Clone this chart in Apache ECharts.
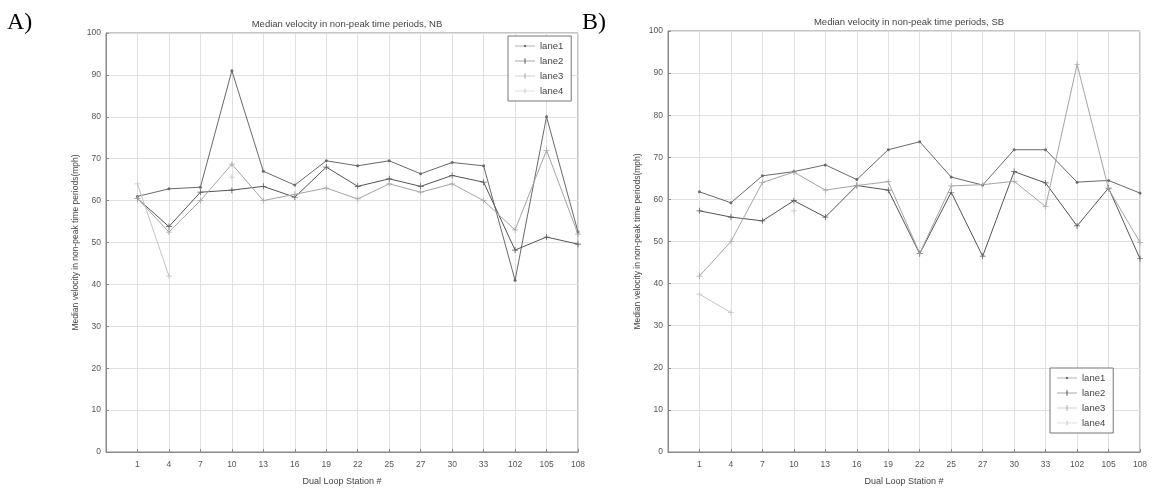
<!DOCTYPE html>
<html>
<head>
<meta charset="utf-8">
<script src="https://cdn.jsdelivr.net/npm/echarts@6/dist/echarts.min.js"></script>
<style>
html,body{margin:0;padding:0;background:#fff;}
#chart{width:1155px;height:491px;}
</style>
</head>
<body>
<div id="chart"></div>
<script>
// ---- data ----
const stationsNB = ['1','4','7','10','13','16','19','22','25','27','30','33','102','105','108'];
const stationsSB = ['1','4','7','10','13','16','19','22','25','27','30','33','102','105','108'];
const laneNames = ['lane1','lane2','lane3','lane4'];
const yTicks = [0,10,20,30,40,50,60,70,80,90,100];

const lane1NB = [61, 62.8, 63.2, 91, 67, 63.7, 69.5, 68.3, 69.5, 66.4, 69.1, 68.3, 41, 80, 52.5];
const lane2NB = [60.5, 53.8, 62, 62.5, 63.4, 60.8, 68, 63.4, 65.2, 63.4, 66, 64.4, 48.2, 51.3, 49.6];
const lane3NB = [60.5, 52.5, 60, 68.7, 60, 61.5, 63, 60.4, 64, 62, 64, 60, 53, 72, 52];
const lane4NB = [64, 42, null, 65.6, null, null, null, null, null, null, null, null, null, null, null];

const lane1SB = [61.8, 59.2, 65.6, 66.6, 68.2, 64.7, 71.8, 73.7, 65.3, 63.4, 71.8, 71.8, 64.1, 64.5, 61.5];
const lane2SB = [57.3, 55.8, 54.9, 59.7, 55.8, 63.3, 62.2, 47.1, 61.7, 46.5, 66.6, 63.9, 53.7, 62.7, 45.9];
const lane3SB = [41.8, 50, 64, 66.5, 62.2, 63.3, 64.2, 47.2, 63.2, 63.5, 64.3, 58.3, 92.1, 62.5, 49.8];
const lane4SB = [37.5, 33.1, null, 57.3, null, null, null, null, null, null, null, null, null, null, null];

// ---- styles ----
const FONT = 'Liberation Sans';
const laneColors = ['#6a6a6a', '#555555', '#a5a5a5', '#c4c4c4'];
const plusPath = 'path://M0,4.4H10V5.6H0Z M4.4,0H5.6V10H4.4Z';
const laneSymbols = ['circle', plusPath, plusPath, plusPath];
const laneSymbolSizes = [3, 6, 6, 6];
// legend icons: thin line with small marker, bounding box 20x10
const legendIcons = [
  'path://M0,0H0.01V0.01H0Z M0,4.6H20V5.4H0Z M9,4H11V6H9Z M19.99,9.99H20V10H19.99Z',
  'path://M0,0H0.01V0.01H0Z M0,4.6H20V5.4H0Z M9.5,2H10.5V8H9.5Z M7,4.6H13V5.4H7Z M19.99,9.99H20V10H19.99Z',
  'path://M0,0H0.01V0.01H0Z M0,4.6H20V5.4H0Z M9.5,2H10.5V8H9.5Z M19.99,9.99H20V10H19.99Z',
  'path://M0,0H0.01V0.01H0Z M0,4.6H20V5.4H0Z M9.5,2.5H10.5V7.5H9.5Z M19.99,9.99H20V10H19.99Z'
];

function xAxisFor(gridIndex, stations) {
  return {
    type: 'category', gridIndex: gridIndex, boundaryGap: false,
    data: [''].concat(stations),
    name: 'Dual Loop Station #', nameLocation: 'middle', nameGap: 25,
    nameTextStyle: {fontFamily: FONT, fontSize: 9, color: '#444'},
    axisLine: {lineStyle: {color: '#8a8a8a'}},
    axisTick: {inside: true, length: 3, alignWithLabel: true, lineStyle: {color: '#8a8a8a'}},
    axisLabel: {fontFamily: FONT, fontSize: 8.5, color: '#555', margin: 8, interval: 0},
    splitLine: {show: true, lineStyle: {color: '#e0e0e0', width: 1}}
  };
}
function yAxisFor(gridIndex) {
  return {
    type: 'value', gridIndex: gridIndex, min: 0, max: 100, interval: 10,
    name: 'Median velocity in non-peak time periods(mph)', nameLocation: 'middle', nameGap: 26,
    nameTextStyle: {fontFamily: FONT, fontSize: 8.5, color: '#444'},
    axisLine: {show: true, lineStyle: {color: '#8a8a8a'}},
    axisTick: {show: true, inside: true, length: 3, lineStyle: {color: '#8a8a8a'}},
    axisLabel: {fontFamily: FONT, fontSize: 8.5, color: '#555', margin: 5,
      formatter: v => (yTicks.indexOf(v) >= 0 ? String(v) : '')},
    splitLine: {show: true, lineStyle: {color: '#e0e0e0', width: 1}}
  };
}
function lanesSeries(gridIndex, lanes) {
  return lanes.map((vals, i) => ({
    name: laneNames[i], type: 'line',
    xAxisIndex: gridIndex, yAxisIndex: gridIndex,
    data: [null].concat(vals),
    connectNulls: false, showSymbol: true,
    symbol: laneSymbols[i], symbolSize: laneSymbolSizes[i],
    lineStyle: {color: laneColors[i], width: 1},
    itemStyle: {color: laneColors[i]},
    animation: false
  }));
}
function legendFor(left, top) {
  return {
    orient: 'vertical', left: left, top: top,
    data: laneNames.map((n, i) => ({name: n, icon: legendIcons[i]})),
    symbolKeepAspect: false,
    backgroundColor: '#fff', borderColor: '#777', borderWidth: 1,
    padding: [5, 8, 5, 7], itemGap: 5, itemWidth: 20, itemHeight: 9,
    textStyle: {fontFamily: FONT, fontSize: 9.5, color: '#444'},
    selectedMode: false
  };
}

const chart = echarts.init(document.getElementById('chart'), null, {renderer: 'canvas'});
const option = {
  backgroundColor: '#fff',
  animation: false,
  title: [
    {text: 'Median velocity in non-peak time periods, NB', left: 342, top: 14, textAlign: 'center',
     textStyle: {fontFamily: FONT, fontSize: 9.5, fontWeight: 'normal', color: '#444'}},
    {text: 'Median velocity in non-peak time periods, SB', left: 904, top: 12, textAlign: 'center',
     textStyle: {fontFamily: FONT, fontSize: 9.5, fontWeight: 'normal', color: '#444'}}
  ],
  grid: [
    {left: 106, top: 33, width: 472, height: 422, show: true, borderColor: '#8a8a8a', borderWidth: 1, backgroundColor: '#fff'},
    {left: 668, top: 31, width: 472, height: 423, show: true, borderColor: '#8a8a8a', borderWidth: 1, backgroundColor: '#fff'}
  ],
  xAxis: [xAxisFor(0, stationsNB), xAxisFor(1, stationsSB)],
  yAxis: [yAxisFor(0), yAxisFor(1)],
  legend: [legendFor(508, 36), legendFor(1050, 368)],
  series: lanesSeries(0, [lane1NB, lane2NB, lane3NB, lane4NB])
    .concat(lanesSeries(1, [lane1SB, lane2SB, lane3SB, lane4SB])),
  graphic: [
    {type: 'text', left: 7, top: 11, style: {text: 'A)', font: '24px "Liberation Serif"', fill: '#000'}},
    {type: 'text', left: 582, top: 11, style: {text: 'B)', font: '24px "Liberation Serif"', fill: '#000'}}
  ]
};
chart.setOption(option);
</script>
</body>
</html>
